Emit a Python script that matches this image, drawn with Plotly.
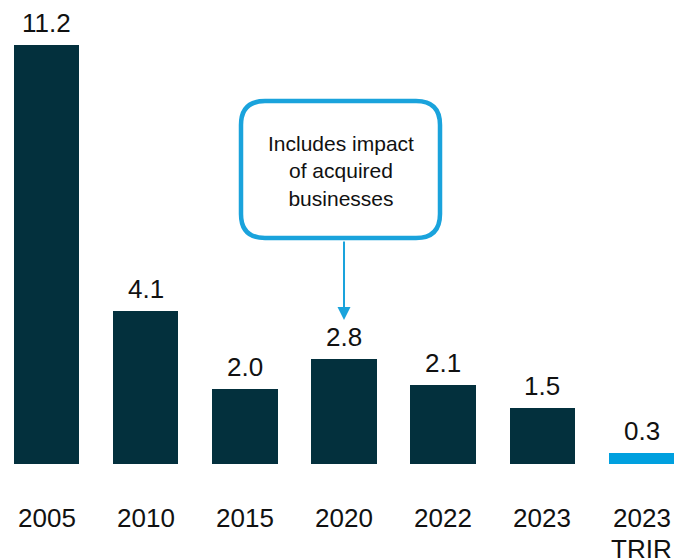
import plotly.graph_objects as go

categories = ["2005", "2010", "2015", "2020", "2022", "2023", "2023<br>TRIR"]
values = [11.2, 4.1, 2.0, 2.8, 2.1, 1.5, 0.3]
value_labels = ["11.2", "4.1", "2.0", "2.8", "2.1", "1.5", "0.3"]
colors = ["#03303d"] * 6 + ["#00a0df"]
callout_text = "Includes impact<br>of acquired<br>businesses"
callout_index = 3

OFF = 8                      # page body margin offset
W, H = 688 - OFF, 559 - OFF
plot_h = 464 - OFF           # bar baseline
PX_PER_UNIT = 37.4
FONT = "Liberation Sans, Arial, sans-serif"
x_idx = list(range(len(categories)))

fig = go.Figure(go.Bar(
    x=x_idx, y=values, marker=dict(color=colors, line=dict(width=0)),
    width=0.66, hoverinfo="skip"))

annotations = []
for i, (v, lab) in enumerate(zip(values, value_labels)):
    annotations.append(dict(x=i, y=v, xref="x", yref="y", text=lab, showarrow=False,
                            yanchor="bottom", yshift=5,
                            font=dict(family=FONT, size=26, color="#111111")))
for i, c in enumerate(categories):
    for k, line in enumerate(c.split("<br>")):
        annotations.append(dict(x=i, y=0, xref="x", yref="y", text=line, showarrow=False,
                                yanchor="top", yshift=-37 - 31 * k,
                                font=dict(family=FONT, size=26, color="#111111")))

# callout box (image-pixel geometry converted to paper coords)
def px(xp):
    return (xp - OFF) / W
def py(yp):
    return 1 - (yp - OFF) / plot_h

x0, x1, yt, yb = 241, 440, 101, 238
r = 24
path = (f"M {px(x0+r)},{py(yt)} L {px(x1-r)},{py(yt)} Q {px(x1)},{py(yt)} {px(x1)},{py(yt+r)} "
        f"L {px(x1)},{py(yb-r)} Q {px(x1)},{py(yb)} {px(x1-r)},{py(yb)} "
        f"L {px(x0+r)},{py(yb)} Q {px(x0)},{py(yb)} {px(x0)},{py(yb-r)} "
        f"L {px(x0)},{py(yt+r)} Q {px(x0)},{py(yt)} {px(x0+r)},{py(yt)} Z")
fig.add_shape(type="path", xref="paper", yref="paper", path=path,
              line=dict(color="#1aa3dc", width=4.5), fillcolor="white", layer="above")

annotations.append(dict(x=px((x0 + x1) / 2), y=py(171), xref="paper", yref="paper",
                        text=callout_text, showarrow=False, align="center",
                        font=dict(family=FONT, size=21, color="#111111")))
annotations.append(dict(x=callout_index, y=3.85, xref="x", yref="y", text="",
                        showarrow=True, ax=0, ay=-80, axref="pixel", ayref="pixel",
                        arrowhead=2, arrowsize=1.3, arrowwidth=2, arrowcolor="#1aa3dc"))

spacing = 99.17
c0 = 46.5 - OFF
fig.update_layout(
    width=W, height=H, margin=dict(l=0, r=0, t=0, b=H - plot_h),
    plot_bgcolor="white", paper_bgcolor="white", showlegend=False,
    xaxis=dict(range=[-c0 / spacing, (W - c0) / spacing], visible=False, fixedrange=True),
    yaxis=dict(range=[0, plot_h / PX_PER_UNIT], visible=False, fixedrange=True),
    annotations=annotations, bargap=0,
)
fig.write_html("out.html")
